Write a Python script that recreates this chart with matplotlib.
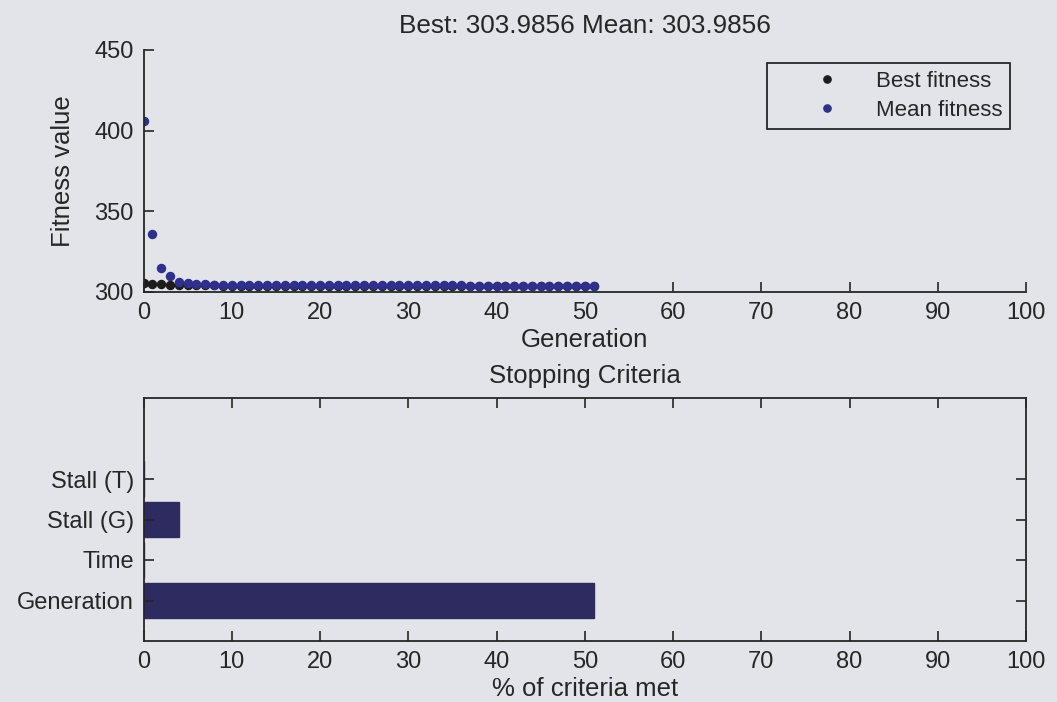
import matplotlib
matplotlib.use("Agg")
import matplotlib.pyplot as plt
from matplotlib.lines import Line2D

# GA run: best / mean fitness per generation
generations = list(range(52))
best_fitness = [
    305.3, 305.0, 304.8, 304.6, 304.4, 304.3, 304.2, 304.1, 304.1, 304.0,
    304.0, 304.0, 304.0, 304.0, 303.99, 303.99, 303.99, 303.99, 303.99, 303.99,
    303.99, 303.99, 303.99, 303.99, 303.99, 303.99, 303.99, 303.99, 303.99, 303.99,
    303.99, 303.99, 303.99, 303.99, 303.99, 303.99, 303.99, 303.99, 303.99, 303.99,
    303.99, 303.99, 303.99, 303.99, 303.99, 303.99, 303.99, 303.99, 303.99, 303.99,
    303.99, 303.9856,
]
mean_fitness = [
    406.3, 336.2, 314.8, 310.2, 306.4, 305.6, 305.1, 304.8, 304.6, 304.5,
    304.5, 304.4, 304.4, 304.4, 304.3, 304.3, 304.3, 304.3, 304.3, 304.2,
    304.2, 304.2, 304.2, 304.2, 304.2, 304.2, 304.1, 304.1, 304.1, 304.1,
    304.1, 304.1, 304.1, 304.1, 304.1, 304.1, 304.1, 304.0, 304.0, 304.0,
    304.0, 304.0, 304.0, 304.0, 304.0, 304.0, 304.0, 304.0, 304.0, 304.0,
    304.0, 303.9856,
]
best_final = 303.9856
mean_final = 303.9856

# stopping criteria, % met
criteria = ["Generation", "Time", "Stall (G)", "Stall (T)"]
criteria_pct = [51, 0, 4, 0]

xticks = list(range(0, 101, 10))
fit_yticks = [300, 350, 400, 450]

BG = "#e3e4e9"
INK = "#262626"
MEAN_C = "#2f2f8c"
BEST_C = "#1c1c1c"
BAR_C = "#2e2b60"

plt.rcParams["font.family"] = ["Liberation Sans", "DejaVu Sans"]
plt.rcParams["text.color"] = INK
plt.rcParams["axes.labelcolor"] = INK
plt.rcParams["xtick.color"] = INK
plt.rcParams["ytick.color"] = INK

fig = plt.figure(figsize=(10.57, 7.02), dpi=100, facecolor=BG)
left, width = 143.5 / 1057, (1026 - 143.5) / 1057

# --- top: fitness ---
ax1 = fig.add_axes([left, 1 - 292 / 702, width, 242 / 702], facecolor=BG)
ax1.plot(generations, best_fitness, linestyle="none", marker="o", ms=5.8,
         color=BEST_C, mec=BEST_C, label="Best fitness")
ax1.plot(generations, mean_fitness, linestyle="none", marker="o", ms=5.8,
         color=MEAN_C, mec=MEAN_C, label="Mean fitness")
ax1.set_xlim(0, 100)
ax1.set_ylim(300, 450)
ax1.set_xticks(xticks)
ax1.set_yticks(fit_yticks)
ax1.spines["top"].set_visible(False)
ax1.spines["right"].set_visible(False)
for sp in ax1.spines.values():
    sp.set_color(INK)
    sp.set_linewidth(1.3)
ax1.tick_params(direction="in", length=7, width=1.2, labelsize=17, pad=7)
ax1.set_title(f"Best: {best_final:.4f} Mean: {mean_final:.4f}", fontsize=18.8, pad=12)
ax1.set_xlabel("Generation", fontsize=18.5, labelpad=3)
ax1.set_ylabel("Fitness value", fontsize=18.5, labelpad=14)

handles = [
    Line2D([], [], linestyle="none", marker="o", ms=5.2, color=BEST_C),
    Line2D([], [], linestyle="none", marker="o", ms=5.2, color=MEAN_C),
]
leg = ax1.legend(handles, ["Best fitness", "Mean fitness"], loc="upper right",
                 bbox_to_anchor=(1010 / 1057, 1 - 63 / 702), bbox_transform=fig.transFigure,
                 borderaxespad=0, fontsize=16, fancybox=False, framealpha=1,
                 facecolor=BG, edgecolor=INK, borderpad=0.35, handlelength=4.7,
                 handletextpad=-0.15, labelspacing=0.38, numpoints=1)
leg.get_frame().set_linewidth(1.3)

# --- bottom: stopping criteria ---
ax2 = fig.add_axes([left, 1 - 641 / 702, width, 243 / 702], facecolor=BG)
ypos = [1, 2, 3, 4]
ax2.barh(ypos, criteria_pct, height=0.88, color=BAR_C, edgecolor=BAR_C)
ax2.set_xlim(0, 100)
ax2.set_ylim(0, 6)
ax2.set_xticks(xticks)
ax2.set_yticks(ypos)
ax2.set_yticklabels(criteria)
for sp in ax2.spines.values():
    sp.set_color(INK)
    sp.set_linewidth(1.3)
ax2.tick_params(direction="in", length=7, width=1.2, labelsize=17, pad=7,
                top=True, right=True)
ax2.set_title("Stopping Criteria", fontsize=18.5, pad=11)
ax2.set_xlabel("% of criteria met", fontsize=18.5, labelpad=3)

fig.savefig("out.png", dpi=100, facecolor=BG)
